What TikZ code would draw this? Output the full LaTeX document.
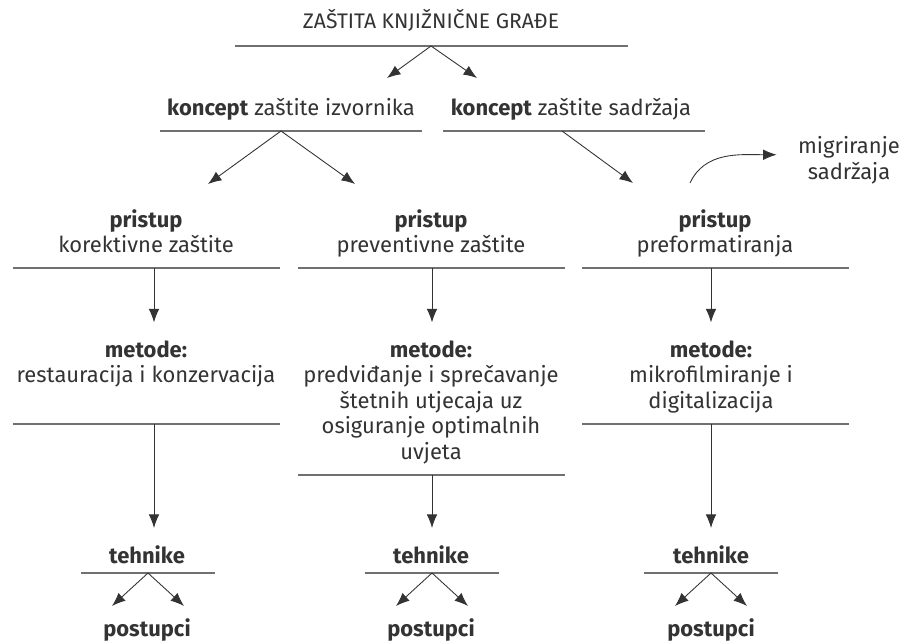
\documentclass[tikz,border=0pt]{standalone}
\usepackage{fontspec}
\setmainfont{Fira Sans}
\usepackage{tikz}
\usetikzlibrary{positioning,arrows.meta}
\definecolor{txtgray}{HTML}{333333}
\definecolor{rulegray}{HTML}{707070}
\tikzset{
lbl/.style={
align=center,
text=txtgray,
inner sep=0pt,
font=\fontsize{12.5}{14.6}\selectfont
},
rule/.style={
draw=rulegray,
line width=0.9pt
},
arrow/.style={
-{Latex[length=2.7mm,width=2.1mm]},
draw=txtgray,
line width=0.5pt
}
}

\begin{document}
\begin{tikzpicture}[x=0.02cm,y=-0.02cm]
\useasboundingbox (0,0) rectangle (903,641);

% naslov
\node[lbl,font=\fontsize{12}{14}\selectfont] (naslov) at (431,20) {ZAŠTITA KNJIŽNIČNE GRAĐE};
\draw[rule] (235,46) -- (628,46);
\coordinate (n0) at (431,46);
\coordinate (n1) at (387,78);
\coordinate (n2) at (477,78);

% koncepti
\node[lbl] (koncIzv) at (291,109) {\textbf{koncept} zaštite izvornika};
\node[lbl] (koncSad) at (571,109) {\textbf{koncept} zaštite sadržaja};
\draw[rule] (160,131) -- (422,131);
\draw[rule] (443,131) -- (705,131);
\coordinate (k1) at (281,131);
\coordinate (k1l) at (208,184);
\coordinate (k1r) at (355,184);
\coordinate (k2) at (562,131);
\coordinate (k2r) at (633,183);
\coordinate (k2c) at (690,183);
\node[lbl] (migr) at (849,160) {migriranje\\sadržaja};

% pristupi
\node[lbl,anchor=north] (prist1) at (146,209) {\textbf{pristup}\\korektivne zaštite};
\node[lbl,anchor=north] (prist2) at (431,209) {\textbf{pristup}\\preventivne zaštite};
\node[lbl,anchor=north] (prist3) at (715,209) {\textbf{pristup}\\preformatiranja};
\draw[rule] (13,268) -- (280,268);
\draw[rule] (298,268) -- (565,268);
\draw[rule] (582,268) -- (849,268);

% metode
\node[lbl,anchor=north] (met1) at (146,340) {\textbf{metode:}\\restauracija i konzervacija};
\node[lbl,anchor=north] (met2) at (431,340) {\textbf{metode:}\\predviđanje i sprečavanje\\štetnih utjecaja uz\\osiguranje optimalnih\\uvjeta};
\node[lbl,anchor=north] (met3) at (711,340) {\textbf{metode:}\\mikrofilmiranje i\\digitalizacija};
\draw[rule] (13,424) -- (280,424);
\draw[rule] (298,475) -- (565,475);
\draw[rule] (582,424) -- (849,424);

% tehnike i postupci
\foreach \i/\x/\a in {1/147/148,2/431/432,3/711/711}{
\node[lbl] (teh\i) at (\x,555) {\textbf{tehnike}};
\node[lbl] (post\i) at (\x,630) {\textbf{postupci}};
\draw[rule] (\a-67,573) -- (\a+67,573);
\coordinate (t\i) at (\a,573);
\coordinate (t\i l) at (\a-36,606);
\coordinate (t\i r) at (\a+36,606);
\draw[arrow] (t\i) -- (t\i l);
\draw[arrow] (t\i) -- (t\i r);
}

\coordinate (p1) at (154,268);
\coordinate (p2) at (432,268);
\coordinate (p3) at (711,268);
\coordinate (m1) at (154,424);
\coordinate (m2) at (432,475);
\coordinate (m3) at (711,424);

\foreach \x/\y in {n0/n1,n0/n2,k1/k1l,k1/k1r,k2/k2r}
\draw[arrow](\x)--(\y);
\foreach \i in {1,2,3}{
\draw[arrow] (p\i) -- ([yshift=10pt]p\i |- met\i.north);
\draw[arrow] (m\i) -- ([yshift=10pt]m\i |- teh\i.north);
}
\draw[arrow] (k2c) to[out=65,in=180] ([xshift=-12pt,yshift=3pt]migr.west);
\end{tikzpicture}
\end{document}
